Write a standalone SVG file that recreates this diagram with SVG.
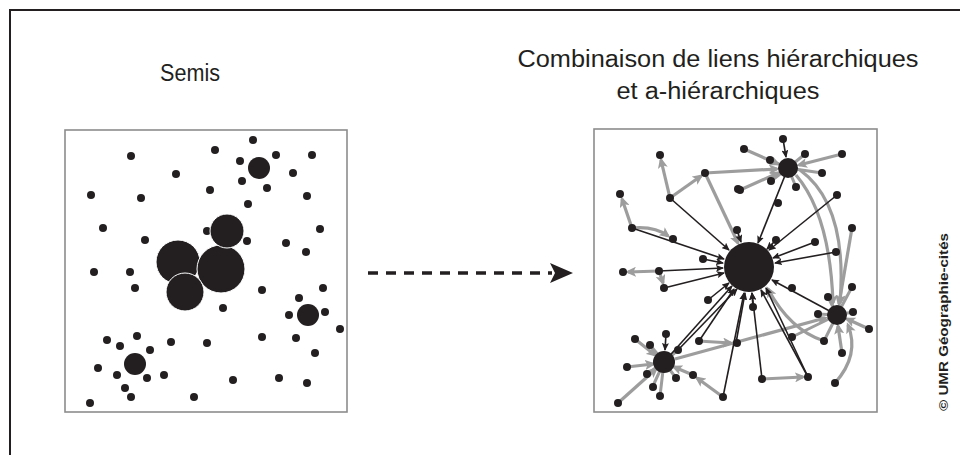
<svg xmlns="http://www.w3.org/2000/svg" width="960" height="455" viewBox="0 0 960 455">
<style>
.t{font-family:"Liberation Sans",Arial,sans-serif;font-size:23px;fill:#231f20;text-anchor:middle}
.cp{font-family:"Liberation Sans",Arial,sans-serif;font-size:13px;font-weight:bold;fill:#231f20;text-anchor:middle}
.d{fill:#231f20}
.big{fill:#231f20;stroke:#fff;stroke-width:1}
.box{fill:#fff;stroke:#8c8c8c;stroke-width:1.6}
.bk{stroke:#231f20;stroke-width:1.6;fill:none;marker-end:url(#ab)}
.gr{stroke:#9d9d9d;stroke-width:3.2;fill:none;marker-end:url(#ag)}
.gl{stroke:#9d9d9d;stroke-width:3;fill:none}
</style>
<defs>
<marker id="ab" markerUnits="userSpaceOnUse" markerWidth="9" markerHeight="7" refX="7" refY="3.5" orient="auto"><path d="M0,0 L8,3.5 L0,7 L1.5,3.5 Z" fill="#231f20"/></marker>
<marker id="ag" markerUnits="userSpaceOnUse" markerWidth="12" markerHeight="10" refX="8" refY="5" orient="auto"><path d="M0,0 L11,5 L0,10 L2.5,5 Z" fill="#9d9d9d"/></marker>
</defs>
<rect width="960" height="455" fill="#fff"/>
<path d="M10,455 L10,10 L960,10" fill="none" stroke="#231f20" stroke-width="2"/>

<text class="t" x="190" y="81" textLength="60" lengthAdjust="spacingAndGlyphs">Semis</text>
<text class="t" x="718" y="67" textLength="401" lengthAdjust="spacingAndGlyphs">Combinaison de liens hiérarchiques</text>
<text class="t" x="718" y="99" textLength="203" lengthAdjust="spacingAndGlyphs">et a-hiérarchiques</text>
<text class="cp" transform="translate(948,322) rotate(-90)" textLength="178" lengthAdjust="spacingAndGlyphs">© UMR Géographie-cités</text>

<g id="semis">
<rect class="box" x="65" y="130" width="282" height="282"/>
<g class="d">
<circle cx="131" cy="156" r="4"/><circle cx="215" cy="150" r="4"/><circle cx="253" cy="140" r="4"/><circle cx="240" cy="161" r="4"/>
<circle cx="276" cy="155" r="4"/><circle cx="312" cy="155" r="4"/><circle cx="176" cy="174" r="4"/><circle cx="293" cy="173" r="4"/>
<circle cx="242" cy="181" r="4"/><circle cx="267" cy="188" r="4"/><circle cx="91" cy="195" r="4"/><circle cx="141" cy="198" r="4"/>
<circle cx="210" cy="190" r="4"/><circle cx="307" cy="196" r="4"/><circle cx="248" cy="204" r="4"/><circle cx="103" cy="228" r="4"/>
<circle cx="145" cy="240" r="4"/><circle cx="207" cy="231" r="4"/><circle cx="247" cy="241" r="4"/><circle cx="320" cy="229" r="4"/>
<circle cx="286" cy="243" r="4"/><circle cx="306" cy="252" r="4"/><circle cx="94" cy="272" r="4"/><circle cx="130" cy="272" r="4"/>
<circle cx="135" cy="288" r="4"/><circle cx="262" cy="290" r="4"/><circle cx="323" cy="288" r="4"/><circle cx="299" cy="298" r="4"/>
<circle cx="289" cy="315" r="4"/><circle cx="325" cy="312" r="4"/><circle cx="223" cy="308" r="4"/><circle cx="340" cy="329" r="4"/>
<circle cx="262" cy="337" r="4"/><circle cx="296" cy="338" r="4"/><circle cx="315" cy="353" r="4"/><circle cx="107" cy="340" r="4"/>
<circle cx="137" cy="336" r="4"/><circle cx="120" cy="346" r="4"/><circle cx="171" cy="342" r="4"/><circle cx="207" cy="343" r="4"/>
<circle cx="150" cy="350" r="4"/><circle cx="98" cy="368" r="4"/><circle cx="117" cy="375" r="4"/><circle cx="147" cy="378" r="4"/>
<circle cx="164" cy="375" r="4"/><circle cx="125" cy="388" r="4"/><circle cx="131" cy="397" r="4"/><circle cx="90" cy="403" r="4"/>
<circle cx="194" cy="397" r="4"/><circle cx="233" cy="380" r="4"/><circle cx="279" cy="378" r="4"/><circle cx="307" cy="383" r="4"/>
<circle cx="259" cy="168" r="11"/><circle cx="308" cy="315" r="11"/><circle cx="135" cy="364" r="11"/>
</g>
<circle class="big" cx="178" cy="262" r="22"/>
<circle class="big" cx="221" cy="269" r="24"/>
<circle class="big" cx="227" cy="231" r="17"/>
<circle class="big" cx="185" cy="292" r="19"/>
</g>

<g id="transition">
<line x1="368" y1="273" x2="552" y2="273" stroke="#231f20" stroke-width="3.5" stroke-dasharray="10 8"/>
<polygon points="550,263 573,273 550,283 555,273" fill="#231f20"/>
</g>

<rect class="box" x="594" y="129" width="283" height="283"/>

<g id="connectors">
<path class="gl" d="M770,160 L788,168 M805,154 L788,168 M771,181 L788,168 M796,187 L788,168 M822,173 L788,168"/>
<path class="gl" d="M828,297 L837,315 M852,287 L837,315 M818,314 L837,315 M853,312 L837,315 M824,341 L837,315 M792,337 L837,315"/>
<path class="gl" d="M650,345 L664,362 M678,350 L664,362 M647,374 L664,362 M676,378 L664,362 M652,388 L664,362 M660,396 L664,362"/>
<line class="gr" x1="670" y1="198" x2="661" y2="160"/>
<line class="gr" x1="670" y1="198" x2="701" y2="176"/>
<line class="gr" x1="705" y1="173" x2="777" y2="169"/>
<line class="gr" x1="705" y1="173" x2="738" y2="243"/>
<line class="gr" x1="632" y1="228" x2="622" y2="199"/>
<path class="gr" d="M632,228 Q655,226 668,236"/>
<line class="gr" x1="659" y1="271" x2="628" y2="272"/>
<line class="gr" x1="659" y1="271" x2="663" y2="283"/>
<line class="gr" x1="744" y1="149" x2="778" y2="164"/>
<line class="gr" x1="842" y1="154" x2="799" y2="165"/>
<line class="gr" x1="740" y1="190" x2="778" y2="173"/>
<path class="gr" d="M796,175 Q830,215 833,303"/>
<path class="gr" d="M800,170 Q848,205 840,303"/>
<line class="gr" x1="852" y1="228" x2="839" y2="304"/>
<line class="gr" x1="869" y1="329" x2="847" y2="319"/>
<line class="gr" x1="842" y1="353" x2="838" y2="326"/>
<path class="gr" d="M835,383 Q860,355 848,325"/>
<path class="gr" d="M824,341 Q790,330 768,289"/>
<line class="gr" x1="675" y1="359" x2="825" y2="318"/>
<line class="gr" x1="698" y1="341" x2="731" y2="343"/>
<line class="gr" x1="762" y1="379" x2="803" y2="377"/>
<line class="gr" x1="723" y1="397" x2="697" y2="378"/>
<line class="gr" x1="618" y1="403" x2="656" y2="369"/>
<line class="gr" x1="627" y1="367" x2="653" y2="364"/>
<line class="gr" x1="635" y1="339" x2="655" y2="355"/>
<line class="gr" x1="693" y1="375" x2="674" y2="367"/>
<line class="bk" x1="670" y1="198" x2="729" y2="250"/>
<line class="bk" x1="632" y1="228" x2="724" y2="259"/>
<line class="bk" x1="659" y1="271" x2="723" y2="268"/>
<line class="bk" x1="664" y1="288" x2="724" y2="273"/>
<line class="bk" x1="703" y1="259" x2="723" y2="263"/>
<line class="bk" x1="737" y1="230" x2="741" y2="242"/>
<line class="bk" x1="788" y1="168" x2="758" y2="243"/>
<line class="bk" x1="837" y1="195" x2="769" y2="250"/>
<line class="bk" x1="815" y1="242" x2="773" y2="258"/>
<line class="bk" x1="836" y1="252" x2="775" y2="263"/>
<line class="bk" x1="776" y1="240" x2="767" y2="249"/>
<line class="bk" x1="837" y1="315" x2="772" y2="280"/>
<line class="bk" x1="808" y1="377" x2="761" y2="290"/>
<line class="bk" x1="808" y1="377" x2="766" y2="288"/>
<line class="bk" x1="762" y1="379" x2="752" y2="293"/>
<line class="bk" x1="753" y1="307" x2="752" y2="293"/>
<line class="bk" x1="736" y1="343" x2="745" y2="293"/>
<line class="bk" x1="723" y1="397" x2="744" y2="293"/>
<line class="bk" x1="699" y1="341" x2="734" y2="289"/>
<line class="bk" x1="664" y1="362" x2="732" y2="286"/>
<line class="bk" x1="678" y1="350" x2="737" y2="289"/>
<line class="bk" x1="708" y1="300" x2="729" y2="283"/>
<line class="bk" x1="783" y1="139" x2="786" y2="157"/>
<line class="bk" x1="666" y1="334" x2="665" y2="350"/>
</g>

<g id="n-centre"><circle class="d" cx="749" cy="267" r="25"/></g>
<g id="n-hub-ne"><circle class="d" cx="788" cy="168" r="10"/></g>
<g id="n-hub-se"><circle class="d" cx="837" cy="315" r="10"/></g>
<g id="n-hub-sw"><circle class="d" cx="664" cy="362" r="11"/></g>
<g id="n-dots" class="d">
<g id="n1"><circle cx="660" cy="155" r="4"/></g><g id="n2"><circle cx="705" cy="173" r="4"/></g>
<g id="n3"><circle cx="620" cy="194" r="4"/></g><g id="n4"><circle cx="670" cy="198" r="4"/></g>
<g id="n5"><circle cx="632" cy="228" r="4"/></g><g id="n6"><circle cx="673" cy="239" r="4"/></g>
<g id="n7"><circle cx="738" cy="189" r="4"/></g><g id="n8"><circle cx="737" cy="230" r="4"/></g>
<g id="n9"><circle cx="703" cy="259" r="4"/></g><g id="n10"><circle cx="623" cy="272" r="4"/></g>
<g id="n11"><circle cx="659" cy="271" r="4"/></g><g id="n12"><circle cx="664" cy="288" r="4"/></g>
<g id="n13"><circle cx="783" cy="139" r="4"/></g><g id="n14"><circle cx="744" cy="149" r="4"/></g>
<g id="n15"><circle cx="805" cy="154" r="4"/></g><g id="n16"><circle cx="842" cy="154" r="4"/></g>
<g id="n17"><circle cx="770" cy="160" r="4"/></g><g id="n18"><circle cx="822" cy="173" r="4"/></g>
<g id="n19"><circle cx="771" cy="181" r="4"/></g><g id="n20"><circle cx="796" cy="187" r="4"/></g>
<g id="n21"><circle cx="740" cy="190" r="4"/></g><g id="n22"><circle cx="778" cy="203" r="4"/></g>
<g id="n23"><circle cx="837" cy="195" r="4"/></g><g id="n24"><circle cx="852" cy="228" r="4"/></g>
<g id="n25"><circle cx="776" cy="240" r="4"/></g><g id="n26"><circle cx="815" cy="242" r="4"/></g>
<g id="n27"><circle cx="836" cy="252" r="4"/></g><g id="n28"><circle cx="792" cy="288" r="4"/></g>
<g id="n29"><circle cx="852" cy="287" r="4"/></g><g id="n30"><circle cx="828" cy="297" r="4"/></g>
<g id="n31"><circle cx="818" cy="314" r="4"/></g><g id="n32"><circle cx="853" cy="312" r="4"/></g>
<g id="n33"><circle cx="753" cy="307" r="4"/></g><g id="n34"><circle cx="708" cy="300" r="4"/></g>
<g id="n35"><circle cx="737" cy="343" r="4"/></g><g id="n36"><circle cx="792" cy="337" r="4"/></g>
<g id="n37"><circle cx="824" cy="341" r="4"/></g><g id="n38"><circle cx="869" cy="329" r="4"/></g>
<g id="n39"><circle cx="842" cy="353" r="4"/></g><g id="n40"><circle cx="762" cy="379" r="4"/></g>
<g id="n41"><circle cx="808" cy="377" r="4"/></g><g id="n42"><circle cx="835" cy="383" r="4"/></g>
<g id="n43"><circle cx="723" cy="397" r="4"/></g><g id="n44"><circle cx="699" cy="341" r="4"/></g>
<g id="n45"><circle cx="693" cy="375" r="4"/></g><g id="n46"><circle cx="635" cy="339" r="4"/></g>
<g id="n47"><circle cx="650" cy="345" r="4"/></g><g id="n48"><circle cx="666" cy="334" r="4"/></g>
<g id="n49"><circle cx="678" cy="350" r="4"/></g><g id="n50"><circle cx="627" cy="367" r="4"/></g>
<g id="n51"><circle cx="647" cy="374" r="4"/></g><g id="n52"><circle cx="676" cy="378" r="4"/></g>
<g id="n53"><circle cx="653" cy="387" r="4"/></g><g id="n54"><circle cx="660" cy="396" r="4"/></g>
<g id="n55"><circle cx="618" cy="403" r="4"/></g>
</g>
</svg>
